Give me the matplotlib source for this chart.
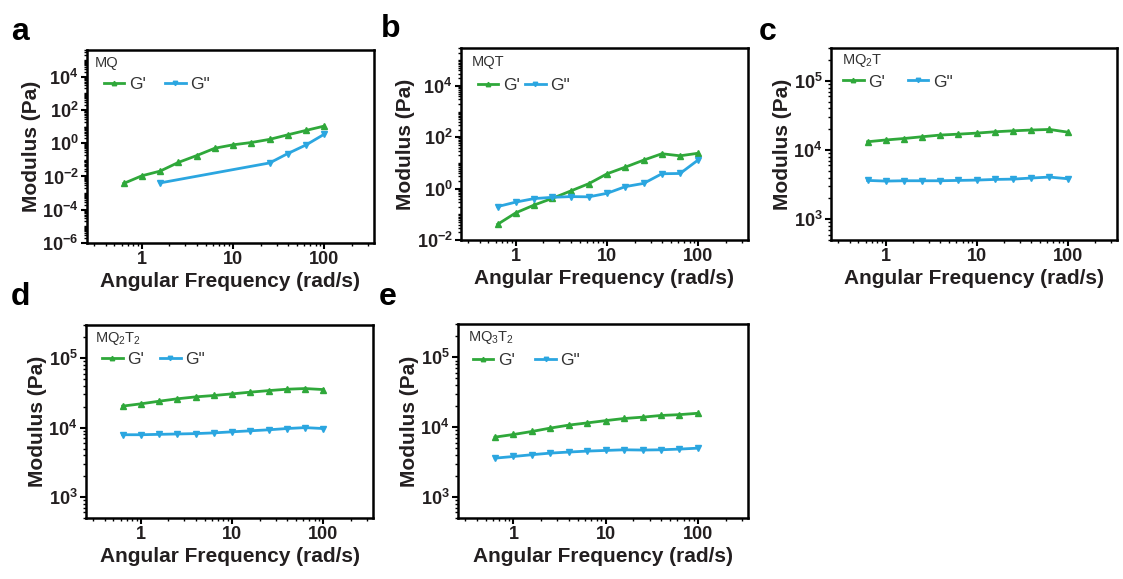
import numpy as np
import matplotlib
matplotlib.use('Agg')
import matplotlib.pyplot as plt
from matplotlib.ticker import LogLocator, FixedLocator, FuncFormatter, NullFormatter

plt.rcParams['font.family'] = ['Liberation Sans', 'DejaVu Sans']
plt.rcParams['mathtext.default'] = 'regular'

# angular frequency (rad/s)
freq = [0.631, 1.0, 1.585, 2.512, 3.981, 6.31, 10.0, 15.85, 25.12, 39.81, 63.1, 100.0]

# MQ
mq_g1 = [3.8e-3, 1.1e-2, 2.1e-2, 0.07, 0.18, 0.5, 0.8, 1.1, 1.7, 3.2, 5.9, 10.7]
mq_freq2 = [1.585, 25.12, 39.81, 63.1, 100.0]
mq_g2 = [4.1e-3, 0.065, 0.24, 0.79, 3.5]

# MQT
mqt_g1 = [0.041, 0.115, 0.23, 0.42, 0.81, 1.57, 3.8, 6.9, 12.9, 22.9, 19, 24]
mqt_g2 = [0.2, 0.3, 0.41, 0.46, 0.49, 0.48, 0.66, 1.2, 1.6, 3.8, 3.9, 13.3]

# MQ2T
mq2t_g1 = [1.32e4, 1.4e4, 1.47e4, 1.56e4, 1.65e4, 1.7e4, 1.76e4, 1.84e4, 1.9e4, 1.95e4, 1.99e4, 1.82e4]
mq2t_g2 = [3.64e3, 3.56e3, 3.6e3, 3.6e3, 3.6e3, 3.64e3, 3.68e3, 3.76e3, 3.8e3, 3.94e3, 4.07e3, 3.85e3]

# MQ2T2
mq2t2_g1 = [2.04e4, 2.2e4, 2.4e4, 2.6e4, 2.77e4, 2.9e4, 3.06e4, 3.24e4, 3.41e4, 3.57e4, 3.65e4, 3.53e4]
mq2t2_g2 = [7.9e3, 7.9e3, 8.0e3, 8.1e3, 8.2e3, 8.4e3, 8.7e3, 9.0e3, 9.3e3, 9.7e3, 1.0e4, 9.7e3]

# MQ3T2
mq3t2_g1 = [7.2e3, 7.85e3, 8.67e3, 9.7e3, 1.07e4, 1.15e4, 1.24e4, 1.33e4, 1.39e4, 1.47e4, 1.51e4, 1.58e4]
mq3t2_g2 = [3.6e3, 3.8e3, 4.03e3, 4.25e3, 4.4e3, 4.54e3, 4.64e3, 4.74e3, 4.7e3, 4.74e3, 4.85e3, 5.0e3]

green = '#2fa83a'
blue = '#2ba6e0'
ink = '#231f20'

W, H = 1123, 579
fig = plt.figure(figsize=(W / 100, H / 100), dpi=100)


def box(l, t, r, b):
    return [l / W, 1 - b / H, (r - l) / W, (b - t) / H]


def panel(rect, letter, letter_xy, title, title_xy, leg_xy, colsp, x1, y1, x2, y2, ylim, yticks):
    ax = fig.add_axes(box(*rect))
    ax.plot(x1, y1, '-^', color=green, lw=2, ms=4, label="G'")
    ax.plot(x2, y2, '-v', color=blue, lw=2, ms=4, label='G"')
    ax.set_xscale('log')
    ax.set_yscale('log')
    ax.set_xlim(0.25, 350)
    ax.set_ylim(*ylim)
    ax.set_xticks([1, 10, 100])
    ax.xaxis.set_major_formatter(FuncFormatter(lambda v, p: '%g' % v))
    ax.xaxis.set_minor_locator(LogLocator(base=10, subs=np.arange(2, 10), numticks=20))
    ax.xaxis.set_minor_formatter(NullFormatter())
    ax.yaxis.set_major_locator(FixedLocator(yticks))
    ax.yaxis.set_major_formatter(FuncFormatter(lambda v, p: '$10^{%d}$' % round(np.log10(v))))
    ax.yaxis.set_minor_locator(LogLocator(base=10, subs=np.arange(1, 10), numticks=30))
    ax.yaxis.set_minor_formatter(NullFormatter())
    for s in ax.spines.values():
        s.set_linewidth(1.8)
        s.set_color('black')
    ax.tick_params(which='major', direction='out', length=4, width=1.5, labelsize=13, pad=2,
                   labelcolor=ink)
    ax.tick_params(which='minor', direction='out', length=2.5, width=1.0)
    for lab in ax.get_xticklabels() + ax.get_yticklabels():
        lab.set_fontweight('bold')
    ax.set_xlabel('Angular Frequency (rad/s)', fontsize=15, fontweight='bold', labelpad=3, color=ink)
    ax.set_ylabel('Modulus (Pa)', fontsize=15, fontweight='bold', labelpad=1, color=ink)
    ax.text(title_xy[0], title_xy[1], title, transform=ax.transAxes, fontsize=10.5,
            color='#333333', ha='left', va='center')
    ax.legend(loc='center left', bbox_to_anchor=leg_xy, ncol=2, frameon=False, fontsize=12.5,
              handlelength=1.2, handletextpad=0.25, columnspacing=colsp, borderaxespad=0,
              borderpad=0, markerscale=0.8, labelcolor='#333333')
    fig.text(letter_xy[0] / W, 1 - letter_xy[1] / H, letter, fontsize=23, fontweight='bold',
             ha='left', va='baseline')
    return ax


panel((87, 50, 374, 243), 'a', (11, 40), 'MQ', (0.028, 0.935), (0.058, 0.82), 1.1,
      freq, mq_g1, mq_freq2, mq_g2, (1e-6, 4e5), [1e-6, 1e-4, 1e-2, 1, 1e2, 1e4])
panel((461, 48, 748, 240), 'b', (381, 37), 'MQT', (0.038, 0.925), (0.058, 0.807), 0.3,
      freq, mqt_g1, freq, mqt_g2, (1e-2, 3e5), [1e-2, 1, 1e2, 1e4])
panel((831, 48, 1117, 240), 'c', (759, 40), 'MQ$_2$T', (0.038, 0.935), (0.042, 0.823), 1.3,
      freq, mq2t_g1, freq, mq2t_g2, (500, 3e5), [1e3, 1e4, 1e5])
panel((86, 325, 373, 518), 'd', (11, 305), 'MQ$_2$T$_2$', (0.031, 0.93), (0.056, 0.82), 0.9,
      freq, mq2t2_g1, freq, mq2t2_g2, (500, 3e5), [1e3, 1e4, 1e5])
panel((458, 324, 748, 518), 'e', (379, 305), 'MQ$_3$T$_2$', (0.034, 0.93), (0.05, 0.81), 1.2,
      freq, mq3t2_g1, freq, mq3t2_g2, (500, 3e5), [1e3, 1e4, 1e5])

fig.savefig('out.png', dpi=100)
